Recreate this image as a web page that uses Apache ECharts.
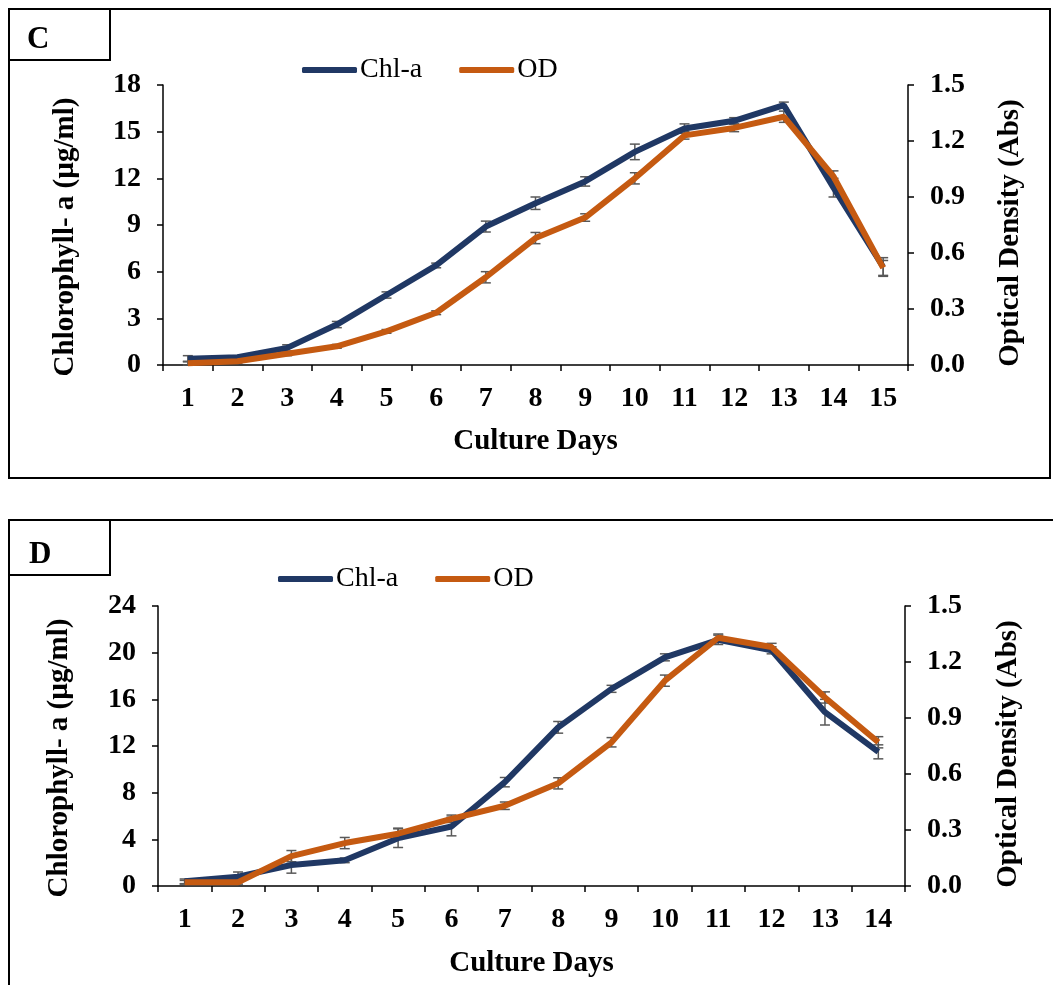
<!DOCTYPE html>
<html>
<head>
<meta charset="utf-8">
<script src="https://cdn.jsdelivr.net/npm/echarts@6/dist/echarts.min.js"></script>
<style>
  html, body { margin: 0; padding: 0; background: #fff; }
  #chart { width: 1053px; height: 985px; }
</style>
</head>
<body>
<div id="chart"></div>
<script>
/* panel C */
var daysC = ['1', '2', '3', '4', '5', '6', '7', '8', '9', '10', '11', '12', '13', '14', '15'];
var chlC = [0.4, 0.5, 1.1, 2.6, 4.5, 6.4, 8.9, 10.4, 11.8, 13.7, 15.2, 15.7, 16.7, 11.4, 6.3];
var chlErrC = [0.2, 0.1, 0.2, 0.2, 0.2, 0.15, 0.35, 0.4, 0.3, 0.5, 0.3, 0.2, 0.2, 0.6, 0.6];
var odC = [0.01, 0.02, 0.06, 0.1, 0.18, 0.28, 0.47, 0.68, 0.79, 1.0, 1.23, 1.27, 1.33, 1.01, 0.52];
var odErrC = [0.01, 0.01, 0.01, 0.01, 0.01, 0.01, 0.03, 0.03, 0.02, 0.03, 0.02, 0.02, 0.03, 0.03, 0.04];

/* panel D */
var daysD = ['1', '2', '3', '4', '5', '6', '7', '8', '9', '10', '11', '12', '13', '14'];
var chlD = [0.4, 0.8, 1.8, 2.2, 4.1, 5.1, 8.9, 13.6, 16.9, 19.6, 21.1, 20.2, 14.9, 11.5];
var chlErrD = [0.2, 0.4, 0.7, 0.2, 0.8, 0.8, 0.4, 0.5, 0.3, 0.3, 0.4, 0.3, 1.1, 0.6];
var odD = [0.02, 0.02, 0.16, 0.23, 0.28, 0.36, 0.43, 0.55, 0.77, 1.10, 1.33, 1.28, 1.01, 0.77];
var odErrD = [0.01, 0.01, 0.03, 0.03, 0.03, 0.02, 0.02, 0.03, 0.025, 0.03, 0.02, 0.02, 0.03, 0.03];

var FONT = 'Liberation Serif';
var BLUE = '#203864';
var ORANGE = '#C55A11';

function errData(values, errs) {
    var out = [];
    for (var i = 0; i < values.length; i++) {
        out.push([i, values[i], errs[i]]);
    }
    return out;
}

function renderErrorBar(params, api) {
    var idx = api.value(0);
    var v = api.value(1);
    var e = api.value(2);
    var top = api.coord([idx, v + e]);
    var bot = api.coord([idx, v - e]);
    var half = 5;
    var style = { stroke: '#595959', lineWidth: 1.5 };
    return {
        type: 'group',
        children: [
            { type: 'line', shape: { x1: top[0], y1: top[1], x2: bot[0], y2: bot[1] }, style: style },
            { type: 'line', shape: { x1: top[0] - half, y1: top[1], x2: top[0] + half, y2: top[1] }, style: style },
            { type: 'line', shape: { x1: bot[0] - half, y1: bot[1], x2: bot[0] + half, y2: bot[1] }, style: style }
        ]
    };
}

function xAxisFor(days, gridIndex, nameGap) {
    return {
        type: 'category',
        gridIndex: gridIndex,
        data: days,
        boundaryGap: true,
        axisLine: { show: true, lineStyle: { color: '#000', width: 1.5 } },
        axisTick: { show: true, inside: false, length: 6, lineStyle: { color: '#000', width: 1.5 } },
        axisLabel: { fontFamily: FONT, fontWeight: 'bold', fontSize: 28, color: '#000', margin: 20 },
        splitLine: { show: false },
        name: 'Culture Days',
        nameLocation: 'middle',
        nameGap: nameGap,
        nameTextStyle: { fontFamily: FONT, fontWeight: 'bold', fontSize: 29, color: '#000' }
    };
}

function yAxisFor(gridIndex, max, interval, name, position, nameGap, shift, digits) {
    return {
        type: 'value',
        gridIndex: gridIndex,
        position: position,
        min: 0,
        max: max,
        interval: interval,
        axisLine: { show: true, lineStyle: { color: '#000', width: 1.5 } },
        axisTick: { show: true, inside: false, length: 6, lineStyle: { color: '#000', width: 1.5 } },
        axisLabel: {
            fontFamily: FONT, fontWeight: 'bold', fontSize: 28, color: '#000', margin: 22,
            formatter: function (v) { return v.toFixed(digits); }
        },
        splitLine: { show: false },
        name: name,
        nameLocation: 'middle',
        nameRotate: 90,
        nameGap: nameGap,
        nameTextStyle: {
            fontFamily: FONT, fontWeight: 'bold', fontSize: 29, color: '#000',
            padding: [0, shift * 2, 0, 0]
        }
    };
}

function lineSeries(name, data, color, xi, yi) {
    return {
        name: name,
        type: 'line',
        xAxisIndex: xi,
        yAxisIndex: yi,
        data: data,
        symbol: 'none',
        lineStyle: { color: color, width: 6 },
        itemStyle: { color: color },
        z: 3
    };
}

function errSeries(values, errs, xi, yi) {
    return {
        type: 'custom',
        xAxisIndex: xi,
        yAxisIndex: yi,
        data: errData(values, errs),
        encode: { x: 0, y: 1 },
        renderItem: renderErrorBar,
        silent: true,
        z: 2
    };
}

function legendFor(left, top) {
    return {
        left: left, top: top,
        icon: 'roundRect',
        itemWidth: 55, itemHeight: 6, itemGap: 37,
        data: ['Chl-a', 'OD'],
        textStyle: { fontFamily: FONT, fontSize: 28, color: '#000', padding: [0, 0, 0, -2] }
    };
}

var option = {
    animation: false,
    backgroundColor: '#fff',
    grid: [
        { left: 163, right: 145, top: 85, bottom: 620, containLabel: false },
        { left: 158, right: 148, top: 606, bottom: 99, containLabel: false }
    ],
    legend: [legendFor(297, 51), legendFor(273, 560)],
    xAxis: [xAxisFor(daysC, 0, 62), xAxisFor(daysD, 1, 63)],
    yAxis: [
        yAxisFor(0, 18, 3, 'Chlorophyll- a (µg/ml)', 'left', 83, 12, 0),
        yAxisFor(0, 1.5, 0.3, 'Optical Density (Abs)', 'right', 88, 8, 1),
        yAxisFor(1, 24, 4, 'Chlorophyll- a (µg/ml)', 'left', 84, 12, 0),
        yAxisFor(1, 1.5, 0.3, 'Optical Density (Abs)', 'right', 89, 8, 1)
    ],
    series: [
        errSeries(chlC, chlErrC, 0, 0),
        errSeries(odC, odErrC, 0, 1),
        lineSeries('Chl-a', chlC, BLUE, 0, 0),
        lineSeries('OD', odC, ORANGE, 0, 1),
        errSeries(chlD, chlErrD, 1, 2),
        errSeries(odD, odErrD, 1, 3),
        lineSeries('Chl-a', chlD, BLUE, 1, 2),
        lineSeries('OD', odD, ORANGE, 1, 3)
    ],
    graphic: [
        /* panel frames */
        { type: 'rect', shape: { x: 9, y: 9, width: 1041, height: 469 }, style: { fill: null, stroke: '#000', lineWidth: 2 }, z: 0 },
        { type: 'rect', shape: { x: 9, y: 9, width: 101, height: 51 }, style: { fill: '#fff', stroke: '#000', lineWidth: 2 }, z: 1 },
        { type: 'text', x: 27, y: 40, style: { text: 'C', fontFamily: FONT, fontWeight: 'bold', fontSize: 31, fill: '#000', verticalAlign: 'middle' }, z: 2 },
        { type: 'rect', shape: { x: 9, y: 520, width: 1060, height: 480 }, style: { fill: null, stroke: '#000', lineWidth: 2 }, z: 0 },
        { type: 'rect', shape: { x: 9, y: 520, width: 101, height: 55 }, style: { fill: '#fff', stroke: '#000', lineWidth: 2 }, z: 1 },
        { type: 'text', x: 29, y: 555, style: { text: 'D', fontFamily: FONT, fontWeight: 'bold', fontSize: 31, fill: '#000', verticalAlign: 'middle' }, z: 2 }
    ]
};

var myChart = echarts.init(document.getElementById('chart'));
myChart.setOption(option);
</script>
</body>
</html>
